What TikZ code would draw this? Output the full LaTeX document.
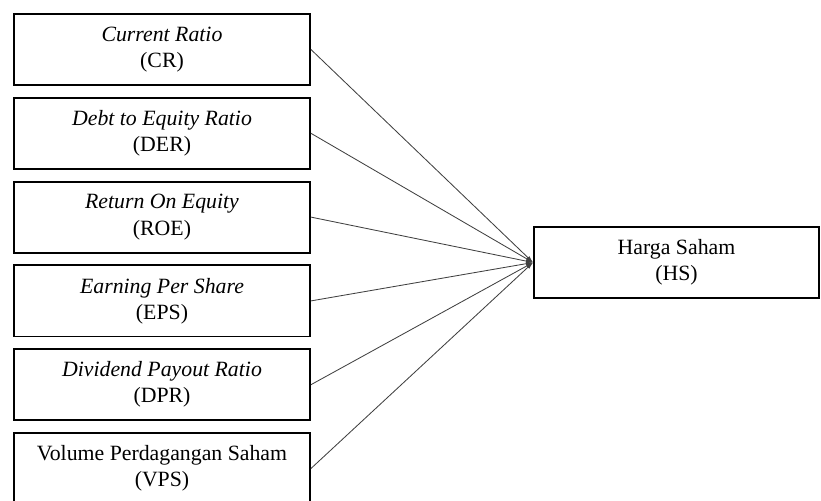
\documentclass[tikz,border=0pt]{standalone}
\usepackage{fontspec}
\setmainfont{Liberation Serif}
\usetikzlibrary{arrows.meta}
\tikzset{%
    var/.style={draw=black,line width=1.3pt,minimum width=7.4cm,minimum height=1.775cm,
        align=center,inner sep=2pt,font=\fontsize{15.5}{18.5}\selectfont},
    link/.style={draw=black!75,line width=0.6pt,-{Latex[length=5pt,width=3pt]}}
}
\begin{document}
\begin{tikzpicture}[x=0.025cm,y=-0.025cm]
        \useasboundingbox (0,0) rectangle (821,500);
        \node[var] (cr) at (162,49.5){\textit{Current Ratio}\\(CR)};
        \node[var] (der) at (162,133.3){\textit{Debt to Equity Ratio}\\(DER)};
        \node[var] (roe) at (162,217.1){\textit{Return On Equity}\\(ROE)};
        \node[var] (eps) at (162,300.9){\textit{Earning Per Share}\\(EPS)};
        \node[var] (dpr) at (162,384.7){\textit{Dividend Payout Ratio}\\(DPR)};
        \node[var] (vps) at (162,468.5){Volume Perdagangan Saham\\(VPS)};
        \node[var,minimum width=7.125cm] (hs) at (676.5,262.5){Harga Saham\\(HS)};
        \draw[link] (cr.east) -- (hs.west);
        \draw[link] (der.east) -- (hs.west);
        \draw[link] (roe.east) -- (hs.west);
        \draw[link] (eps.east) -- (hs.west);
        \draw[link] (dpr.east) -- (hs.west);
        \draw[link] (vps.east) -- (hs.west);
    \end{tikzpicture}
\end{document}
